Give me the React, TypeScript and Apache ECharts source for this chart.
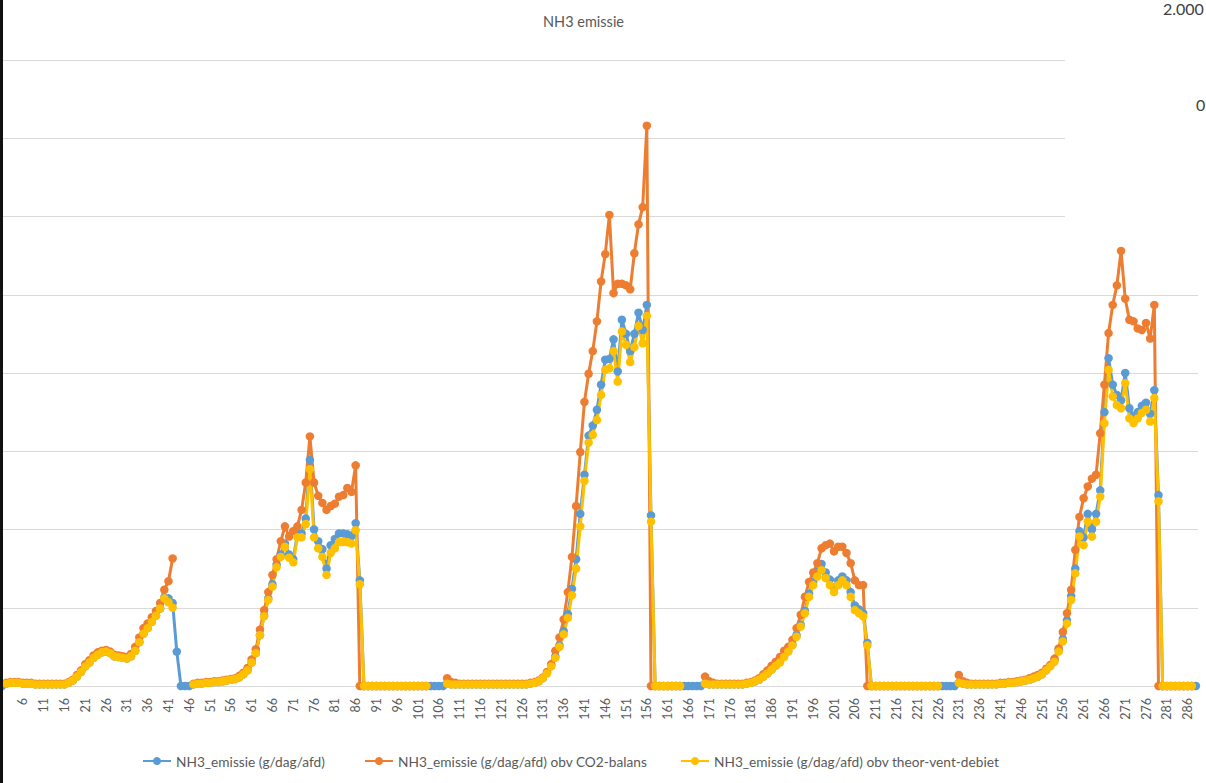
import React, { useEffect, useRef } from "react";
import * as echarts from "echarts";

const _ = null;

// categories 1..288
const categories: string[] = Array.from({ length: 288 }, (_v, i) => String(i + 1));

const seriesNames = [
  "NH3_emissie (g/dag/afd)",
  "NH3_emissie (g/dag/afd) obv CO2-balans",
  "NH3_emissie (g/dag/afd) obv theor-vent-debiet",
];

const nh3Emissie: (number | null)[] = [
  0, 0.03, 0.04, 0.04, 0.04, 0.03, 0.03, 0.03, 0.02, 0.02,
  0.02, 0.02, 0.02, 0.02, 0.02, 0.02, 0.04, 0.07, 0.12, 0.18,
  0.25, 0.3, 0.36, 0.4, 0.43, 0.44, 0.42, 0.38, 0.37, 0.36,
  0.35, 0.38, 0.45, 0.56, 0.67, 0.74, 0.82, 0.9, 0.99, 1.13,
  1.12, 1.06, 0.44, 0, 0, 0, 0.02, 0.03, 0.03, 0.04,
  0.04, 0.05, 0.05, 0.06, 0.07, 0.08, 0.09, 0.11, 0.15, 0.2,
  0.3, 0.42, 0.65, 0.9, 1.12, 1.3, 1.55, 1.68, 1.82, 1.68,
  1.62, 1.95, 1.95, 2.14, 2.89, 2.0, 1.85, 1.75, 1.5, 1.8,
  1.88, 1.95, 1.95, 1.94, 1.92, 2.08, 1.35, 0, 0, 0,
  0, 0, 0, 0, 0, 0, 0, 0, 0, 0,
  0, 0, 0, 0, 0, 0, 0, 0.03, 0.02, 0.02,
  0.02, 0.02, 0.02, 0.02, 0.02, 0.02, 0.02, 0.02, 0.02, 0.02,
  0.02, 0.02, 0.02, 0.02, 0.02, 0.02, 0.02, 0.03, 0.04, 0.06,
  0.1, 0.17, 0.26, 0.38, 0.52, 0.7, 0.92, 1.24, 1.62, 2.2,
  2.7, 3.2, 3.33, 3.53, 3.85, 4.17, 4.18, 4.43, 4.02, 4.68,
  4.5, 4.28, 4.5, 4.77, 4.55, 4.87, 2.18, 0, 0, 0,
  0, 0, 0, 0, 0, 0, 0, 0, 0, 0.03,
  0.02, 0.02, 0.02, 0.02, 0.02, 0.02, 0.02, 0.02, 0.02, 0.03,
  0.04, 0.06, 0.08, 0.12, 0.16, 0.21, 0.26, 0.31, 0.38, 0.45,
  0.53, 0.65, 0.78, 0.96, 1.18, 1.33, 1.46, 1.56, 1.45, 1.36,
  1.26, 1.35, 1.4, 1.35, 1.2, 1.03, 0.98, 0.93, 0.55, 0,
  0, 0, 0, 0, 0, 0, 0, 0, 0, 0,
  0, 0, 0, 0, 0, 0, 0, 0, 0, 0,
  0.04, 0.03, 0.02, 0.02, 0.02, 0.02, 0.02, 0.02, 0.02, 0.02,
  0.03, 0.03, 0.04, 0.04, 0.05, 0.06, 0.07, 0.08, 0.1, 0.12,
  0.15, 0.2, 0.26, 0.33, 0.46, 0.6, 0.84, 1.15, 1.5, 1.98,
  1.9, 2.2, 2.0, 2.2, 2.5, 3.5, 4.19, 3.85, 3.72, 3.65,
  4.0, 3.55, 3.45, 3.5, 3.58, 3.62, 3.48, 3.78, 2.44, 0,
  0, 0, 0, 0, 0, 0, 0, 0,
];

const nh3Co2Balans: (number | null)[] = [
  _, 0.04, 0.05, 0.05, 0.05, 0.04, 0.04, 0.04, 0.03, 0.03,
  0.03, 0.03, 0.03, 0.03, 0.03, 0.03, 0.05, 0.08, 0.14, 0.2,
  0.28, 0.33, 0.39, 0.43, 0.45, 0.46, 0.44, 0.4, 0.39, 0.38,
  0.37, 0.41, 0.5, 0.62, 0.74, 0.8, 0.88, 0.96, 1.06, 1.23,
  1.34, 1.63, _, _, _, _, 0.03, 0.04, 0.04, 0.05,
  0.05, 0.06, 0.06, 0.07, 0.08, 0.09, 0.1, 0.13, 0.17, 0.23,
  0.34, 0.47, 0.72, 0.97, 1.2, 1.42, 1.62, 1.85, 2.04, 1.91,
  1.98, 2.04, 2.25, 2.6, 3.19, 2.6, 2.43, 2.34, 2.25, 2.3,
  2.33, 2.42, 2.44, 2.53, 2.48, 2.82, 0, 0, 0, 0,
  0, 0, 0, 0, 0, 0, 0, 0, 0, 0,
  0, 0, 0, _, _, _, _, 0.1, 0.05, 0.04,
  0.03, 0.03, 0.03, 0.03, 0.03, 0.03, 0.03, 0.03, 0.03, 0.03,
  0.03, 0.03, 0.03, 0.03, 0.03, 0.03, 0.03, 0.04, 0.05, 0.07,
  0.11, 0.18, 0.28, 0.45, 0.62, 0.85, 1.2, 1.65, 2.3, 2.99,
  3.63, 3.99, 4.28, 4.66, 5.17, 5.52, 6.02, 5.02, 5.14, 5.14,
  5.12, 5.07, 5.53, 5.9, 6.12, 7.16, 0, 0, 0, 0,
  0, 0, 0, 0, _, _, _, _, _, 0.12,
  0.06, 0.04, 0.03, 0.03, 0.03, 0.03, 0.03, 0.03, 0.03, 0.04,
  0.05, 0.07, 0.1, 0.15, 0.2, 0.26, 0.31, 0.37, 0.45, 0.5,
  0.59, 0.74, 0.91, 1.14, 1.33, 1.45, 1.57, 1.76, 1.8, 1.82,
  1.72, 1.78, 1.78, 1.7, 1.57, 1.35, 1.29, 1.29, 0, 0,
  0, 0, 0, 0, 0, 0, 0, 0, 0, 0,
  0, 0, 0, 0, 0, 0, _, _, _, _,
  0.14, 0.06, 0.04, 0.03, 0.03, 0.03, 0.03, 0.03, 0.03, 0.03,
  0.04, 0.04, 0.05, 0.05, 0.06, 0.07, 0.08, 0.1, 0.12, 0.14,
  0.17, 0.22, 0.27, 0.35, 0.48, 0.69, 0.93, 1.23, 1.74, 2.16,
  2.4, 2.55, 2.65, 2.7, 3.23, 3.85, 4.51, 4.87, 5.12, 5.56,
  4.95, 4.68, 4.66, 4.57, 4.55, 4.64, 4.44, 4.87, 0, 0,
  0, 0, 0, 0, 0, 0, 0, _,
];

const nh3TheorVent: (number | null)[] = [
  _, 0.03, 0.04, 0.04, 0.04, 0.03, 0.03, 0.03, 0.02, 0.02,
  0.02, 0.02, 0.02, 0.02, 0.02, 0.02, 0.04, 0.07, 0.12, 0.18,
  0.25, 0.3, 0.36, 0.4, 0.43, 0.44, 0.42, 0.38, 0.37, 0.36,
  0.35, 0.38, 0.45, 0.56, 0.67, 0.74, 0.82, 0.9, 0.99, 1.12,
  1.07, 1.0, _, _, _, _, 0.02, 0.03, 0.03, 0.04,
  0.04, 0.05, 0.05, 0.06, 0.07, 0.08, 0.09, 0.11, 0.15, 0.2,
  0.3, 0.42, 0.65, 0.89, 1.1, 1.27, 1.52, 1.65, 1.78, 1.64,
  1.58, 1.9, 1.9, 2.07, 2.77, 1.9, 1.76, 1.65, 1.42, 1.7,
  1.76, 1.84, 1.84, 1.84, 1.82, 1.99, 1.3, 0, 0, 0,
  0, 0, 0, 0, 0, 0, 0, 0, 0, 0,
  0, 0, 0, _, _, _, _, 0.03, 0.02, 0.02,
  0.02, 0.02, 0.02, 0.02, 0.02, 0.02, 0.02, 0.02, 0.02, 0.02,
  0.02, 0.02, 0.02, 0.02, 0.02, 0.02, 0.02, 0.03, 0.04, 0.06,
  0.1, 0.16, 0.25, 0.36, 0.5, 0.66, 0.87, 1.16, 1.5, 2.04,
  2.62, 3.11, 3.21, 3.4, 3.72, 4.04, 4.06, 4.28, 3.89, 4.53,
  4.36, 4.14, 4.33, 4.6, 4.38, 4.73, 2.1, 0, 0, 0,
  0, 0, 0, 0, _, _, _, _, _, 0.03,
  0.02, 0.02, 0.02, 0.02, 0.02, 0.02, 0.02, 0.02, 0.02, 0.03,
  0.04, 0.06, 0.08, 0.12, 0.16, 0.21, 0.26, 0.3, 0.37, 0.44,
  0.52, 0.63, 0.76, 0.93, 1.14, 1.29, 1.4, 1.48, 1.38, 1.29,
  1.2, 1.29, 1.35, 1.29, 1.14, 0.97, 0.93, 0.89, 0.52, 0,
  0, 0, 0, 0, 0, 0, 0, 0, 0, 0,
  0, 0, 0, 0, 0, 0, _, _, _, _,
  0.04, 0.03, 0.02, 0.02, 0.02, 0.02, 0.02, 0.02, 0.02, 0.02,
  0.03, 0.03, 0.04, 0.04, 0.05, 0.06, 0.07, 0.08, 0.1, 0.12,
  0.15, 0.2, 0.25, 0.31, 0.44, 0.57, 0.8, 1.1, 1.44, 1.91,
  1.8, 2.1, 1.91, 2.1, 2.42, 3.36, 4.04, 3.7, 3.59, 3.55,
  3.87, 3.42, 3.36, 3.42, 3.49, 3.53, 3.38, 3.68, 2.36, 0,
  0, 0, 0, 0, 0, 0, 0, _,
];

const colors = ["#5B9BD5", "#ED7D31", "#FFC000"];
const FONT = "Lato, 'Open Sans', sans-serif";

export default function App() {
  const ref = useRef<HTMLDivElement>(null);

  useEffect(() => {
    if (!ref.current) return;
    const chart = echarts.init(ref.current, undefined, { renderer: "svg" });
    const values = [nh3Emissie, nh3Co2Balans, nh3TheorVent];
    const legendLeft = [137, 359, 675];
    chart.setOption({
      animation: false,
      backgroundColor: "#ffffff",
      title: {
        text: "NH3 emissie",
        left: 538,
        top: 9,
        textStyle: { fontFamily: FONT, fontSize: 14.5, fontWeight: "normal", color: "#595959" },
      },
      legend: seriesNames.map((n, i) => ({
        data: [n],
        left: legendLeft[i],
        top: 749,
        itemWidth: 28,
        itemHeight: 10,
        itemGap: 4,
        textStyle: { fontFamily: FONT, fontSize: 13.7, color: "#595959" },
      })),
      grid: { left: -3, right: 8, top: 60, bottom: 97, containLabel: false },
      xAxis: {
        type: "category",
        data: categories,
        boundaryGap: true,
        axisLine: { show: true, lineStyle: { color: "#d9d9d9", width: 1 } },
        axisTick: { show: false },
        axisLabel: {
          rotate: 90,
          interval: (idx: number) => idx % 5 === 0 && idx > 0,
          fontFamily: FONT,
          fontSize: 12.5,
          color: "#595959",
          margin: 12,
        },
        splitLine: { show: false },
      },
      yAxis: {
        type: "value",
        min: 0,
        max: 8,
        interval: 1,
        axisLabel: { show: false },
        axisLine: { show: false },
        axisTick: { show: false },
        splitLine: { show: true, lineStyle: { color: "#d9d9d9", width: 1 } },
      },
      series: seriesNames.map((n, i) => ({
        name: n,
        type: "line",
        data: values[i],
        color: colors[i],
        symbol: "circle",
        symbolSize: 8.5,
        showSymbol: true,
        showAllSymbol: true,
        connectNulls: false,
        lineStyle: { width: 3, color: colors[i] },
        itemStyle: { color: colors[i] },
        emphasis: { disabled: true },
      })),
      graphic: [
        { type: "rect", z: 100, shape: { x: 1065, y: 0, width: 141, height: 236 }, style: { fill: "#ffffff" } },
        { type: "text", z: 101, x: 1163, y: 0, style: { text: "2.000", fontSize: 16, fontFamily: FONT, fill: "#404040" } },
        { type: "text", z: 101, x: 1196, y: 96, style: { text: "0", fontSize: 16, fontFamily: FONT, fill: "#404040" } },
        { type: "rect", z: 100, shape: { x: 0, y: 0, width: 3, height: 783 }, style: { fill: "#111111" } },
      ],
    });
    return () => chart.dispose();
  }, []);

  return (
    <div
      ref={ref}
      style={{ position: "fixed", left: 0, top: 0, width: 1206, height: 783, background: "#fff" }}
    />
  );
}
